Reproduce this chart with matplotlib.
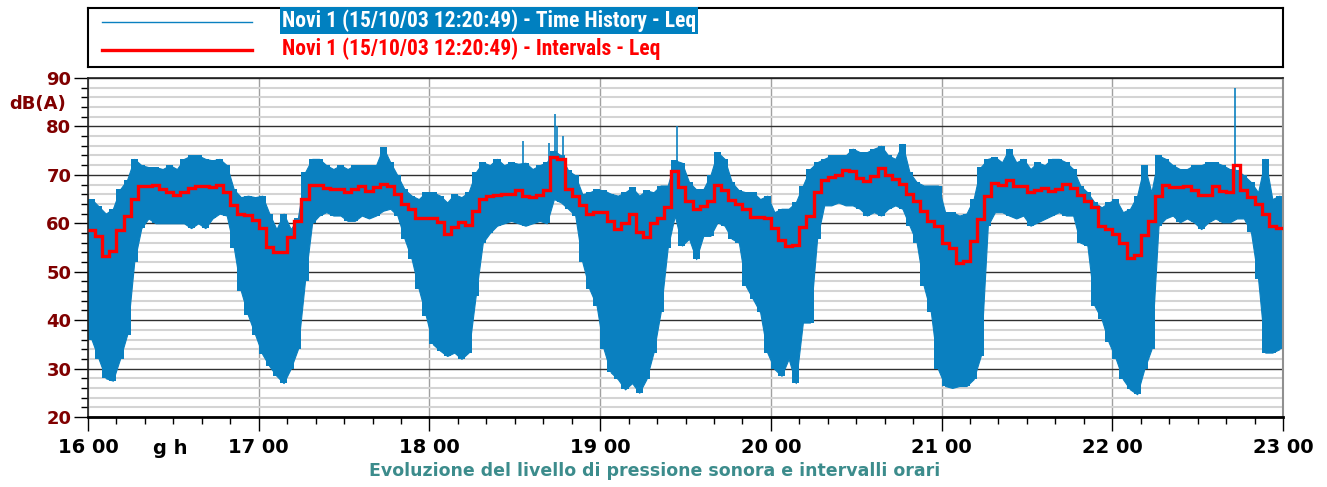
import numpy as np
import matplotlib.pyplot as plt

# Leq of each 2.5 minute interval, 16:00 -> 23:00, dB(A)
interval_leq = [
    58.7, 57.3, 53.3, 54.3, 58.7, 61.6, 65.0, 67.6, 67.8, 67.9, 67.1, 66.5,
    65.8, 66.5, 67.3, 67.7, 67.6, 67.5, 67.9, 66.5, 63.8, 61.9, 61.7, 60.7,
    59.0, 55.1, 54.0, 54.0, 57.1, 60.5, 65.0, 67.9, 67.9, 67.2, 67.1, 67.1,
    66.4, 67.1, 67.7, 66.7, 67.4, 68.1, 67.7, 66.0, 64.0, 62.9, 61.0, 61.0,
    61.0, 60.2, 57.8, 59.2, 60.2, 59.7, 62.6, 65.0, 65.7, 65.9, 66.1, 66.1,
    66.8, 65.7, 65.4, 65.9, 66.8, 73.7, 73.3, 67.1, 65.7, 63.7, 61.9, 62.4,
    62.4, 60.5, 58.8, 60.0, 61.9, 58.3, 57.2, 60.1, 61.1, 63.3, 70.8, 67.4,
    64.7, 62.9, 63.6, 64.7, 67.9, 66.8, 64.9, 64.0, 62.9, 61.3, 61.4, 61.0,
    59.0, 56.5, 55.4, 55.5, 59.3, 61.6, 66.4, 68.9, 69.5, 69.9, 71.0, 70.8,
    69.3, 68.8, 69.7, 71.5, 69.9, 69.1, 68.2, 66.0, 64.7, 62.6, 60.5, 59.4,
    56.0, 55.0, 51.8, 52.3, 56.4, 60.9, 65.7, 68.3, 67.9, 69.0, 67.7, 67.6,
    66.5, 66.9, 67.2, 66.7, 67.1, 68.1, 67.2, 65.8, 64.7, 63.3, 59.4, 58.8,
    57.8, 56.0, 52.8, 53.5, 57.5, 60.5, 65.7, 67.9, 67.4, 67.4, 67.7, 66.9,
    65.8, 65.8, 67.7, 66.7, 66.5, 72.0, 66.9, 65.5, 64.0, 61.9, 59.4, 59.0,
]

# time history, upper and lower edge of the trace in each interval
history_hi = [
    65, 63.5, 62, 63, 67, 69, 73.3, 72, 71.6, 71.6, 71.2, 72,
    71.2, 73.3, 74, 74, 73.3, 73, 73.3, 72, 67, 65.4, 65.7, 65.4,
    65.7, 62, 58.8, 62, 58.8, 61, 70.5, 73.3, 73.3, 72, 71.2, 72,
    71.2, 72, 72, 72, 72, 75.7, 72.6, 69.9, 67, 65.7, 65, 66.4,
    66.4, 65.7, 64.3, 66, 65.4, 66.4, 70.5, 72.6, 72, 73.3, 72, 72.6,
    72.3, 72.5, 71.2, 72, 72.6, 75, 74, 70.9, 69.9, 66, 66.4, 67,
    66.8, 66.1, 65.7, 66.4, 67.4, 65.7, 66.8, 66.4, 67.8, 67.8, 73, 72.5,
    68.5, 67, 67, 69.9, 74.7, 73.3, 68.5, 66.8, 66.4, 66.4, 65, 65.7,
    62.3, 63, 63, 64.3, 67.8, 71.2, 72.6, 73.3, 74, 74, 74, 75.4,
    74.7, 74.7, 75.4, 76, 74, 73.3, 76.4, 70.5, 68.5, 67.8, 67.8, 67.8,
    62.3, 62.3, 61.6, 62, 65, 71.6, 73.3, 73.7, 72.6, 75.4, 72.6, 73.3,
    71.2, 72.6, 72, 73.3, 73.3, 72.6, 71.2, 67.8, 66.4, 64.3, 63.3, 64.3,
    65, 62.3, 63, 65.7, 72, 66.4, 74, 73.3, 72, 71.2, 71.2, 72,
    72, 72.6, 72.6, 72, 71.2, 71, 69.9, 68.5, 66.4, 73.3, 65, 65.7,
]
history_lo = [
    36, 32, 28, 27.5, 32, 37, 52, 59, 61, 60, 60, 60,
    60, 60, 59, 60, 59, 61, 62, 61.6, 55, 46, 41, 37,
    33, 30.5, 28.5, 27, 30, 34, 48, 60, 61.6, 62.3, 61.6, 61.6,
    60.5, 60.5, 61.6, 61, 61.6, 62.6, 63, 61.6, 56.8, 52.6, 46.4, 40.9,
    35, 33.7, 32.6, 33.3, 32, 33.3, 45, 56, 58, 59.5, 60, 60.5,
    60, 59.5, 60, 60.5, 60, 65, 64.3, 63, 61.6, 52, 46.4, 43,
    34, 29.2, 27.8, 25.7, 27, 25, 27.8, 33.3, 41.6, 55, 61.6, 55.4,
    56.8, 52.6, 57.4, 57.4, 60.2, 59.5, 56.8, 56, 47, 44.3, 41.6, 33.3,
    29.9, 28.5, 32, 27, 39.5, 39.5, 56.8, 63.7, 63.7, 64.3, 63.7, 63.7,
    63, 61.6, 62.3, 61.6, 63, 63.7, 63, 59.5, 56, 47, 41.6, 29.9,
    26.4, 26, 26.4, 26.4, 27.8, 32.6, 59.5, 62.3, 62.3, 61.6, 61, 61.6,
    59.5, 60.2, 60.9, 61.6, 62.3, 61.6, 61.6, 56, 55.4, 43, 40.2, 35.4,
    32, 27.8, 25.7, 24.7, 29.9, 34, 59.5, 61, 61.6, 60.2, 61, 60.2,
    58.8, 60.2, 61, 60.2, 60.2, 61, 61, 58.1, 48.5, 33.3, 33.3, 34,
]

# isolated peaks of the time history
peak_times = ["18:33", "18:42", "18:44", "18:45", "18:47", "19:27", "22:43"]
peak_levels = [77.0, 76.5, 82.5, 80.0, 78.0, 80.0, 88.0]

hour_labels = ["16 00", "17 00", "18 00", "19 00", "20 00", "21 00", "22 00", "23 00"]

BLUE = "#0a80c0"
RED = "#ff0000"
MAROON = "#800000"
W, H = 1327, 487

plt.rcParams['font.family'] = ['DejaVu Sans']

fig = plt.figure(figsize=(W / 100, H / 100), dpi=100)
ax = fig.add_axes([88 / W, 70 / H, 1195 / W, 339 / H])

edges = np.linspace(16, 23, len(interval_leq) + 1)
x_hist = 16 + (np.arange(len(history_hi)) + 0.5) * 7 / len(history_hi)
peak_x = [int(s.split(":")[0]) + int(s.split(":")[1]) / 60 for s in peak_times]

# trace: band between low and high edge, per interval block plus joined
ax.stairs(history_hi, edges, baseline=history_lo, fill=True, color=BLUE, lw=0, zorder=2)
ax.fill_between(x_hist, history_lo, history_hi, color=BLUE, lw=0.8, zorder=2)
ax.vlines(peak_x, 66, peak_levels, color=BLUE, lw=1.2, zorder=2)
ax.stairs(interval_leq, edges, color=RED, lw=2.4, baseline=None, zorder=3)

ax.set_xlim(16, 23)
ax.set_ylim(20, 90)
ax.set_xticks(range(16, 24))
ax.set_xticklabels(hour_labels)
ax.set_xticks(np.arange(16, 23.001, 1 / 6), minor=True)
ax.set_yticks(range(20, 91, 10))
ax.set_yticks(range(20, 91, 2), minor=True)

ax.set_axisbelow(True)
ax.grid(which='minor', axis='y', color='#d4d4d4', lw=1.5)
ax.grid(which='major', axis='y', color='#303030', lw=1.0)
ax.grid(which='major', axis='x', color='#a0a0a0', lw=1.0)

ax.tick_params(axis='both', which='major', direction='out', length=10, width=1)
ax.tick_params(axis='both', which='minor', direction='out', length=5, width=1)
ax.tick_params(axis='y', labelcolor=MAROON, labelsize=13, pad=2)
ax.tick_params(axis='x', labelcolor='black', labelsize=14, pad=5)
for lab in ax.get_xticklabels() + ax.get_yticklabels():
    lab.set_fontweight('bold')

for side in ['left', 'top']:
    ax.spines[side].set_color('#202020')
    ax.spines[side].set_linewidth(1.2)
ax.spines['bottom'].set_linewidth(2)
ax.spines['right'].set_color('#909090')
ax.spines['right'].set_linewidth(1.5)

fig.text(38 / W, 1 - 104 / H, "dB(A)", color=MAROON, fontsize=13,
         fontweight='bold', ha='center', va='center')
fig.text(170 / W, 1 - 448 / H, "g h", color='black', fontsize=14,
         fontweight='bold', ha='center', va='center')
fig.text(655 / W, 1 - 471 / H,
         "Evoluzione del livello di pressione sonora e intervalli orari",
         color='#3c8c8c', fontsize=12.5, fontweight='bold', ha='center', va='center')

# legend box, drawn in pixel units
lax = fig.add_axes([88 / W, 420 / H, 1195 / W, 59 / H])
lax.set_xlim(88, 1283)
lax.set_ylim(67, 8)
lax.set_xticks([])
lax.set_yticks([])
for sp in lax.spines.values():
    sp.set_linewidth(1.5)
    sp.set_color('black')
lax.plot([102, 252], [22, 22], color=BLUE, lw=1)
lax.plot([102, 252], [50, 50], color=RED, lw=2.4)
legend_font = ['DejaVu Sans Condensed', 'Roboto Condensed', 'Roboto', 'DejaVu Sans']
lax.text(282, 20.5, "Novi 1 (15/10/03 12:20:49) - Time History - Leq",
         color='white', fontsize=15.5, fontweight='bold', family=legend_font,
         fontstretch='condensed', va='center', ha='left',
         bbox=dict(facecolor='#0080c0', edgecolor='none', boxstyle='square,pad=0.1'))
lax.text(282, 49, "Novi 1 (15/10/03 12:20:49) - Intervals - Leq",
         color=RED, fontsize=15.5, fontweight='bold', family=legend_font,
         fontstretch='condensed', va='center', ha='left')

plt.savefig("out.png", dpi=100)
